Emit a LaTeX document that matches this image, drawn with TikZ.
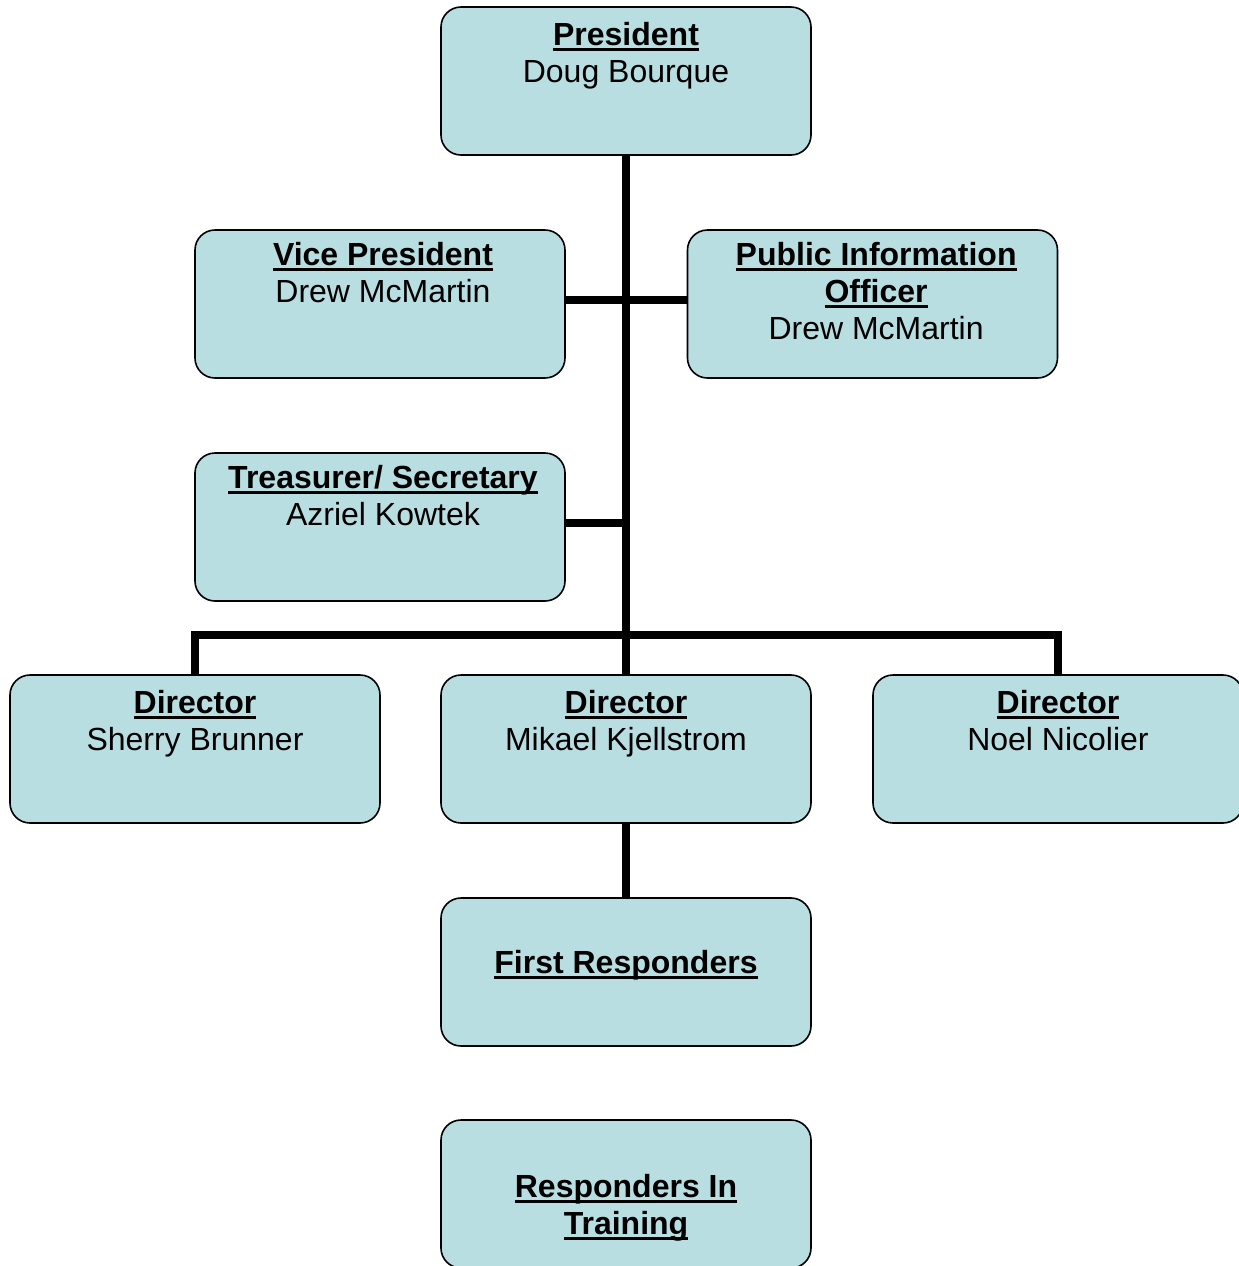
\documentclass[tikz,border=0pt]{standalone}
\usepackage{fontspec}
\setmainfont{Liberation Sans}
\usetikzlibrary{positioning}
\definecolor{boxfill}{RGB}{185,222,226}
\newsavebox\headbox
\newcommand\uhead[1]{\sbox\headbox{\textbf{#1}}\rlap{\rule[-2.7pt]{\wd\headbox}{1.5pt}}\usebox\headbox}
\begin{document}
\begin{tikzpicture}[x=0.5pt, y=-0.5pt,
	box/.style={draw=black, line width=0.8pt, fill=boxfill, rounded corners=10pt, minimum width=185pt, minimum height=74pt, inner sep=0pt},
	boxtext/.style={align=center, inner sep=0pt, font=\fontsize{16pt}{18.5pt}\selectfont},
	link/.style={line width=3.6pt, black}]
	\useasboundingbox (0,0) rectangle (1239,1266);

	% boxes
	\node[box] (pres) at (626,81) {};
	\node[box] (vp) at (380,304) {};
	\node[box] (pio) at (872.5,304) {};
	\node[box] (tre) at (380,527) {};
	\node[box] (dirS) at (195,749) {};
	\node[box] (dirM) at (626,749) {};
	\node[box] (dirN) at (1058,749) {};
	\node[box] (first) at (626,972) {};
	\node[box] (train) at (626,1194) {};

	% connectors
	\coordinate (bus) at (626,635);
	\draw[link] (pres.south) -- (bus);
	\draw[link] ([yshift=2pt]vp.east) -- ([yshift=2pt]pio.west);
	\draw[link] ([yshift=2pt]tre.east) -- ([yshift=2pt]tre.east -| bus);
	\draw[link] (dirS.north) |- (bus) -| (dirN.north);
	\draw[link] (bus) -- (dirM.north);
	\draw[link] (dirM.south) -- (first.north);

	% texts
	\node[boxtext, below=8pt of pres.north] (presT) {\uhead{President}\\Doug Bourque};
	\node[boxtext, below=6.5pt of vp.north, xshift=1.5pt] (vpT) {\uhead{Vice President}\\Drew McMartin};
	\node[boxtext, below=6.5pt of pio.north, xshift=1.8pt] (pioT) {\uhead{Public Information}\\\uhead{Officer}\\Drew McMartin};
	\node[boxtext, below=6.5pt of tre.north, xshift=1.5pt] (treT) {\uhead{Treasurer/ Secretary}\\Azriel Kowtek};
	\node[boxtext, below=8pt of dirS.north] (dirST) {\uhead{Director}\\Sherry Brunner};
	\node[boxtext, below=8pt of dirM.north] (dirMT) {\uhead{Director}\\Mikael Kjellstrom};
	\node[boxtext, below=8pt of dirN.north] (dirNT) {\uhead{Director}\\Noel Nicolier};
	\node[boxtext, below=26.5pt of first.north] (firstT) {\uhead{First Responders}};
	\node[boxtext, below=27.5pt of train.north] (trainT) {\uhead{Responders In}\\\uhead{Training}};
\end{tikzpicture}
\end{document}
